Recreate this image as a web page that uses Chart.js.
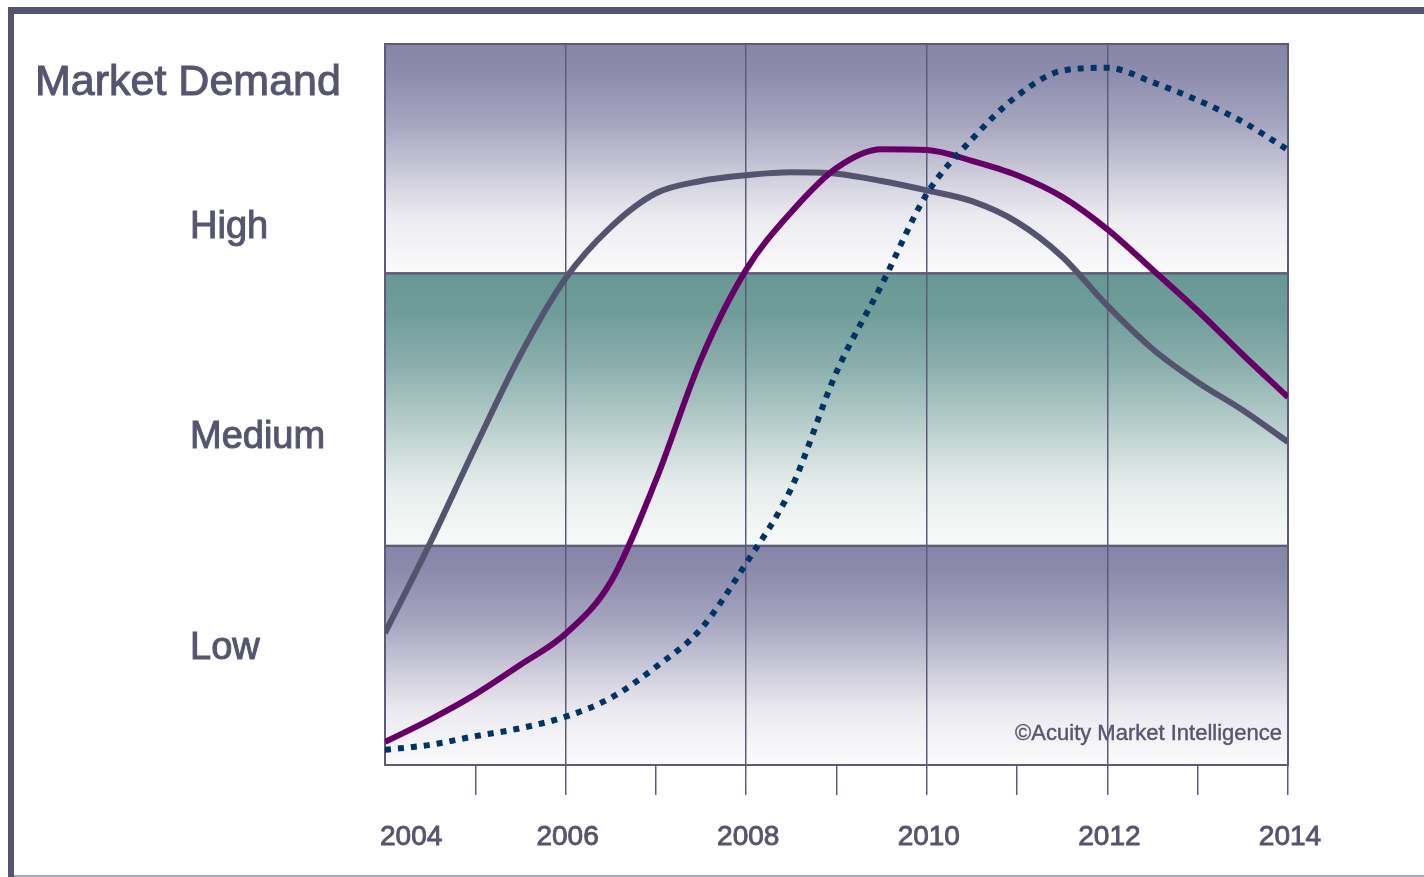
<!DOCTYPE html>
<html>
<head>
<meta charset="utf-8">
<script src="https://cdn.jsdelivr.net/npm/chart.js@4/dist/chart.umd.min.js"></script>
<style>
html,body{margin:0;padding:0;background:#fff;width:1424px;height:877px;overflow:hidden;}
#wrap{position:relative;width:1424px;height:877px;}
#c{position:absolute;left:0;top:0;}
.ft{position:absolute;left:8px;top:7px;width:1416px;height:7px;background:#56556f;}
.fl{position:absolute;left:8px;top:7px;width:6px;height:870px;background:#56556f;}
.fb{position:absolute;left:14px;top:875px;width:1410px;height:2px;background:#a9a8ba;}
</style>
</head>
<body>
<div id="wrap">
  <div class="ft"></div><div class="fl"></div><div class="fb"></div>
  <canvas id="c" width="1424" height="877" style="width:1424px;height:877px;"></canvas>
</div>
<script>
// ---- data ----
const years = [2004, 2004.5, 2005, 2005.5, 2006, 2006.5, 2007, 2007.5, 2008, 2008.5, 2009,
               2009.5, 2010, 2010.5, 2011, 2011.5, 2012, 2012.5, 2013, 2013.5, 2014];
const seriesGray =   [18.3, 30.8, 44.1, 56.9, 67.5, 74.6, 79.3, 81.0, 81.8, 82.2, 82.0,
                      81.0, 79.7, 78.2, 75.3, 70.5, 63.7, 57.7, 53.1, 49.2, 44.8];
const seriesPurple = [3.2, 6.3, 9.8, 13.9, 18.2, 25.4, 39.5, 56.3, 68.7, 76.7, 82.8,
                      85.4, 85.3, 83.8, 81.8, 78.8, 74.3, 68.7, 63.0, 56.9, 51.0];
const seriesDotted = [2.1, 2.8, 4.0, 5.1, 6.7, 9.3, 13.6, 18.9, 28.0, 38.4, 54.5,
                      66.6, 79.2, 86.8, 92.8, 96.3, 96.7, 94.7, 92.2, 89.2, 85.3];
const tickYears = [2004, 2005, 2006, 2007, 2008, 2009, 2010, 2011, 2012, 2013, 2014];
const yearLabels = ['2004', '2006', '2008', '2010', '2012', '2014'];
const levelNames = ['Low', 'Medium', 'High'];
const levelValues = [16.1, 45.4, 74.6];
const bandEdges = [0, 30.4, 68.2, 100];
const bandKinds = ['purple', 'teal', 'purple'];
const yAxisTitle = 'Market Demand';
const credit = '\u00A9Acuity Market Intelligence';

// ---- styles ----
const ink = '#56556f';
const gridColor = '#5d5c78';
const fontFam = '"Liberation Sans", Arial, sans-serif';
const gradStops = {
  purple: [[0, '#8685a8'], [0.12, '#8c8bac'], [0.35, '#a6a5c0'], [0.55, '#c9c8d8'], [0.75, '#ebeaf0'], [1, '#fbfbfc']],
  teal:   [[0, '#679794'], [0.15, '#6f9d9a'], [0.35, '#8cb0ae'], [0.55, '#b6cdcb'], [0.78, '#e6edec'], [1, '#f8faf9']]
};

function boldText(ctx, txt, x, y, w) {
  ctx.lineWidth = w;
  ctx.strokeStyle = ink;
  ctx.fillText(txt, x, y);
  ctx.strokeText(txt, x, y);
}

const bandPlugin = {
  id: 'bands',
  beforeDraw(chart) {
    const {ctx, chartArea: a, scales: {y}} = chart;
    ctx.save();
    for (let i = 0; i < bandKinds.length; i++) {
      const top = y.getPixelForValue(bandEdges[i + 1]);
      const bot = y.getPixelForValue(bandEdges[i]);
      const g = ctx.createLinearGradient(0, top, 0, bot);
      gradStops[bandKinds[i]].forEach(s => g.addColorStop(s[0], s[1]));
      ctx.fillStyle = g;
      ctx.fillRect(a.left, top, a.right - a.left, bot - top);
    }
    ctx.strokeStyle = gridColor;
    ctx.lineWidth = 2;
    for (let i = 0; i < bandKinds.length; i++) {
      const top = y.getPixelForValue(bandEdges[i + 1]);
      const bot = y.getPixelForValue(bandEdges[i]);
      ctx.strokeRect(a.left, top, a.right - a.left, bot - top);
    }
    // credit text
    ctx.fillStyle = ink;
    ctx.font = '22px ' + fontFam;
    ctx.textAlign = 'right';
    ctx.textBaseline = 'middle';
    boldText(ctx, credit, a.right - 6, a.bottom - 31, 0.4);
    ctx.restore();
  },
  afterDraw(chart) {
    const {ctx, chartArea: a, scales: {x}} = chart;
    ctx.save();
    ctx.fillStyle = ink;
    ctx.textBaseline = 'middle';
    ctx.font = '28px ' + fontFam;
    yearLabels.forEach((lab, i) => {
      const px = x.getPixelForValue(Number(lab));
      if (i === 0) { ctx.textAlign = 'left'; boldText(ctx, lab, px - 5, a.bottom + 72, 0.9); }
      else { ctx.textAlign = 'center'; boldText(ctx, lab, px + 2, a.bottom + 72, 0.9); }
    });
    ctx.font = '43px ' + fontFam;
    ctx.textAlign = 'left';
    boldText(ctx, yAxisTitle, 35, 83, 1);
    ctx.restore();
  }
};

const pts = arr => years.map((yr, i) => ({x: yr, y: arr[i]}));

new Chart(document.getElementById('c'), {
  type: 'line',
  data: {
    datasets: [
      { data: pts(seriesDotted), borderColor: '#003366', borderWidth: 6, borderDash: [6, 7],
        borderCapStyle: 'butt', cubicInterpolationMode: 'monotone', pointRadius: 0, fill: false },
      { data: pts(seriesPurple), borderColor: '#660066', borderWidth: 6,
        cubicInterpolationMode: 'monotone', pointRadius: 0, fill: false },
      { data: pts(seriesGray), borderColor: '#55546f', borderWidth: 6,
        cubicInterpolationMode: 'monotone', pointRadius: 0, fill: false }
    ]
  },
  options: {
    responsive: false,
    animation: false,
    devicePixelRatio: 1,
    layout: { padding: { left: 190, top: 44, right: 136, bottom: 0 } },
    plugins: { legend: { display: false }, tooltip: { enabled: false } },
    events: [],
    scales: {
      x: {
        type: 'linear', min: 2004, max: 2014,
        afterBuildTicks: s => { s.ticks = tickYears.map(v => ({value: v})); },
        afterFit: s => { s.height = 112; },
        grid: {
          color: c => (c.tick && c.tick.value % 2 === 0) ? gridColor : 'rgba(0,0,0,0)',
          tickColor: c => (c.tick && c.tick.value === 2004) ? 'rgba(0,0,0,0)' : gridColor,
          lineWidth: 1.5, tickLength: 30, drawTicks: true
        },
        border: { display: false },
        ticks: { display: false }
      },
      y: {
        type: 'linear', min: 0, max: 100, position: 'left',
        afterBuildTicks: s => { s.ticks = levelValues.map(v => ({value: v})); },
        afterFit: s => { s.width = 195; },
        grid: { display: false },
        border: { display: false },
        ticks: {
          autoSkip: false, crossAlign: 'far', padding: 0,
          color: ink, font: { family: fontFam, size: 38 },
          textStrokeColor: ink, textStrokeWidth: 1,
          callback: (v, i) => levelNames[i]
        }
      }
    }
  },
  plugins: [bandPlugin]
});
</script>
</body>
</html>
